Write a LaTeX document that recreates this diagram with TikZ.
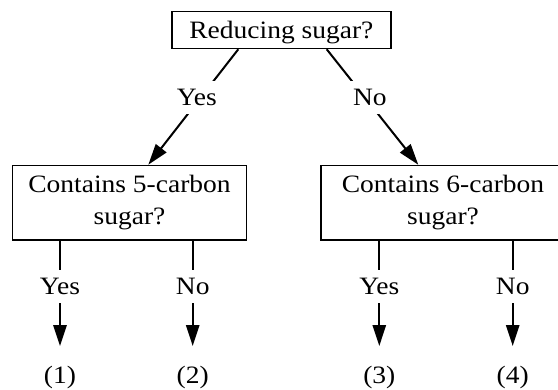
\documentclass[tikz,border=0pt]{standalone}
\usepackage{fontspec}
\setmainfont{Liberation Serif}[FakeStretch=1.1]
\usetikzlibrary{arrows.meta}
\begin{document}
\begin{tikzpicture}[x=1pt,y=1pt,
  every node/.style={font=\fontsize{25}{32.4}\selectfont},
  box/.style={draw, line width=1.5pt, inner sep=0pt, align=center},
  conn/.style={line width=2pt, -{Triangle[length=21pt,width=13.3pt]}},
  lab/.style={fill=white, inner xsep=6pt, inner ysep=8pt, text height=17pt, text depth=0pt},
  endlab/.style={anchor=north, inner sep=0pt, text height=37.5pt, text depth=5pt}]
\useasboundingbox (0,0) rectangle (558,-389);
\node[box, minimum width=219.3pt, minimum height=36.8pt, text height=16.4pt, text depth=0pt] (top) at (281.4,-30.1) {Reducing sugar?};
\node[box, minimum width=234.4pt, minimum height=74.5pt] (left) at (129.5,-202.75) {Contains 5-carbon\\sugar?};
\node[box, minimum width=244pt, minimum height=74.5pt] (right) at (443,-202.75) {Contains 6-carbon\\sugar?};
\draw[conn] ([xshift=-43.1pt]top.south) -- node[lab, pos=0.417, xshift=-4pt] (y0) {Yes} ([xshift=18.8pt]left.north);
\draw[conn] ([xshift=45.3pt]top.south) -- node[lab, pos=0.417, xshift=5pt] (n0) {No} ([xshift=-24.7pt]right.north);
\node[endlab] (r1) at (60,-346) {(1)};
\node[endlab] (r2) at (192.7,-346) {(2)};
\node[endlab] (r3) at (379.3,-346) {(3)};
\node[endlab] (r4) at (512.7,-346) {(4)};
\draw[conn] (r1.north |- left.south) -- node[lab, pos=0.4316] (y1) {Yes} (r1.north);
\draw[conn] (r2.north |- left.south) -- node[lab, pos=0.4316] (n1) {No} (r2.north);
\draw[conn] (r3.north |- right.south) -- node[lab, pos=0.4316] (y2) {Yes} (r3.north);
\draw[conn] (r4.north |- right.south) -- node[lab, pos=0.4316] (n2) {No} (r4.north);
\end{tikzpicture}
\end{document}
